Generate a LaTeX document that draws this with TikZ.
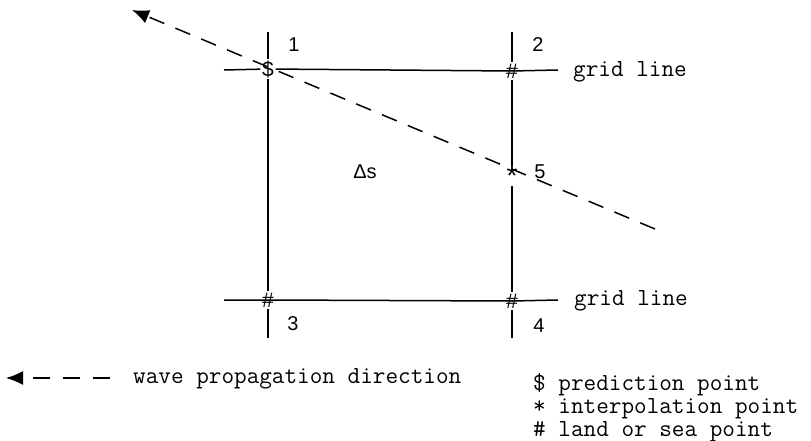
\documentclass[tikz,border=0pt]{standalone}
\usepackage{fontspec}
\newfontfamily\etiq{Liberation Sans}
\usetikzlibrary{arrows.meta}
\begin{document}
\begin{tikzpicture}[x=1pt, y=-1pt,
    rejilla/.style={line width=1.5pt},
    onda/.style={line width=1.5pt, dash pattern=on 16pt off 12pt, -{Latex[length=17pt,width=14pt]}},
    simbolo/.style={font=\etiq\fontsize{21}{21}\selectfont, inner sep=1.5pt},
    numero/.style={font=\etiq\fontsize{20}{20}\selectfont, inner sep=0pt},
    texto/.style={font=\ttfamily\fontsize{24.5}{23}\selectfont, inner sep=0pt, anchor=west}]
    \useasboundingbox (0,0) rectangle (811,441);

    % Puntos de la malla
    \node[simbolo] (p1) at (268,69) {\$};
    \node[simbolo] (p2) at (512,71) {\#};
    \node[simbolo] (p3) at (268,300) {\#};
    \node[simbolo] (p4) at (512,301) {\#};
    \node[simbolo, font=\etiq\fontsize{28}{28}\selectfont, inner sep=0pt] (p5) at (512,176) {*};

    % Extremos de las lineas
    \coordinate (v1a) at (268,32);
    \coordinate (v1b) at (268,338);
    \coordinate (v2a) at (512,32);
    \coordinate (v2b) at (512,338);
    \coordinate (h1a) at (224,70);
    \coordinate (h1b) at (558,70);
    \coordinate (h2a) at (224,300);
    \coordinate (h2b) at (558,300);

    % Lineas de la malla
    \draw[rejilla] (v1a) -- (p1) -- (p3) -- (v1b);
    \draw[rejilla] (v2a) -- (p2) -- (p5) -- (p4) -- (v2b);
    \draw[rejilla] (h1a) -- (p1) -- (p2.center) -- (h1b);
    \draw[rejilla] (h2a) -- (p3.center) -- (p4.center) -- (h2b);

    % Numeros de los puntos
    \node[numero] (n1) at (294,45) {1};
    \node[numero] (n2) at (538,45) {2};
    \node[numero] (n3) at (293,324) {3};
    \node[numero] (n4) at (539,326) {4};
    \node[numero] (n5) at (540,172) {5};
    \node[numero] (ds) at (365,172) {Δs};

    \node[texto] (g1) at (573,72) {grid line};
    \node[texto] (g2) at (574,301) {grid line};

    % Direccion de propagacion
    \coordinate (w0) at (655,229);
    \coordinate (w1) at (132,10);
    \draw[onda] (w0) -- (w1);

    % Leyenda
    \coordinate (l0) at (110,378);
    \coordinate (l1) at (6,378);
    \draw[onda, dash pattern=on 17pt off 13pt] (l0) -- (l1);
    \node[texto] (ley0) at (133,379) {wave propagation direction};
    \node[texto, align=left, anchor=north west] (ley1) at (533,373)
        {\$ prediction point\\* interpolation point\\\# land or sea point};
\end{tikzpicture}
\end{document}
